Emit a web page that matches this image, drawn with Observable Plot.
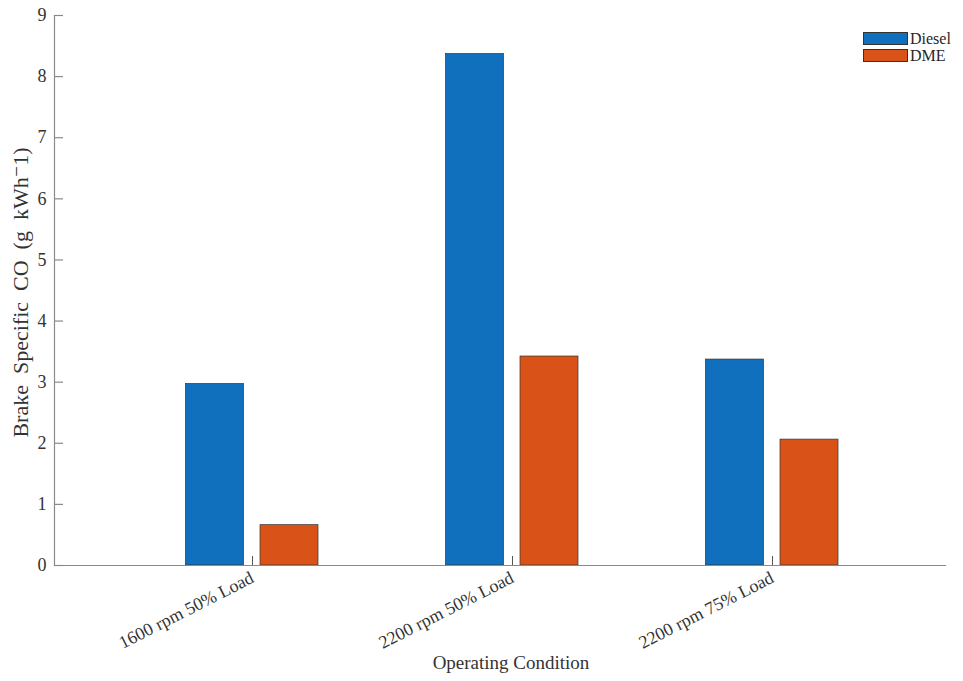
<!DOCTYPE html>
<html>
<head>
<meta charset="utf-8">
<script src="https://cdn.jsdelivr.net/npm/d3@7"></script>
<script src="https://cdn.jsdelivr.net/npm/@observablehq/plot@0.6"></script>
<style>
  body { margin: 0; background: #fff; }
  #wrap { position: relative; width: 963px; height: 681px; font-family: "Liberation Serif", "DejaVu Serif", serif; }
  .legend { position: absolute; left: 863px; top: 30px; font-size: 16px; color: #262626; }
  .legend .row { display: flex; align-items: center; height: 17px; }
  .legend .sw { width: 45px; height: 13px; border: 0.8px solid #333; margin-right: 2px; box-sizing: border-box; }
</style>
</head>
<body>
<div id="wrap"></div>
<script>
const categories = ["1600 rpm 50% Load", "2200 rpm 50% Load", "2200 rpm 75% Load"];
const series = ["Diesel", "DME"];
const dieselValues = [2.97, 8.37, 3.37];
const dmeValues = [0.66, 3.42, 2.06];
const yTicks = [0, 1, 2, 3, 4, 5, 6, 7, 8, 9];
const colors = ["#1170BE", "#D95319"];
const gap = " \u00A0";
const yLabel = ["Brake", "Specific", "CO", "(g", "kWh\u207B1)"].join(gap);
const xLabel = "Operating Condition";

const W = 963, H = 681;
const mL = 54, mR = 18, mT = 15, mB = 116;
const frameW = W - mL - mR, frameH = H - mT - mB;

const dieselData = categories.map((c, i) => ({category: c, series: "Diesel", value: dieselValues[i]}));
const dmeData = categories.map((c, i) => ({category: c, series: "DME", value: dmeValues[i]}));

const font = "'Liberation Serif', 'DejaVu Serif', serif";
const axisColor = "#8a8a8a";
const barInset = 101;

const chart = Plot.plot({
  width: W,
  height: H,
  marginLeft: mL,
  marginRight: mR,
  marginTop: mT,
  marginBottom: mB,
  style: {fontFamily: font, fontSize: "18px", color: "#333", background: "#fff"},
  x: {domain: categories, range: [120.75, 902.25], padding: 0},
  y: {domain: [0, 9]},
  color: {domain: series, range: colors},
  marks: [
    Plot.barY(dieselData, {x: "category", y: "value", fill: "series", stroke: "#333", strokeWidth: 0.7,
      insetLeft: barInset, insetRight: barInset, dx: -37.5}),
    Plot.barY(dmeData, {x: "category", y: "value", fill: "series", stroke: "#333", strokeWidth: 0.7,
      insetLeft: barInset, insetRight: barInset, dx: 37}),
    Plot.frame({anchor: "left", stroke: axisColor, strokeWidth: 1.2}),
    Plot.frame({anchor: "bottom", stroke: axisColor, strokeWidth: 1.2}),
    Plot.tickY(yTicks, {y: d => d, stroke: axisColor, strokeWidth: 1.2, insetRight: frameW - 9}),
    Plot.tickX(categories, {x: d => d, stroke: "#555", strokeWidth: 1, insetTop: frameH - 9}),
    Plot.axisY({ticks: yTicks, tickSize: 0, tickPadding: 8, fontSize: 18, fill: "#333", fontFamily: font, label: null}),
    Plot.axisX({tickSize: 0, tickPadding: 11, tickRotate: -27, fontSize: 18, fill: "#333", fontFamily: font, label: null}),
    Plot.text([yLabel], {text: d => d, frameAnchor: "left", textAnchor: "middle", dx: -34, dy: 2, rotate: -90, fontSize: 22, fill: "#333", fontFamily: font}),
    Plot.text([xLabel], {text: d => d, frameAnchor: "bottom", textAnchor: "middle", dy: 103, dx: 11, fontSize: 19, fill: "#333", fontFamily: font})
  ]
});

const wrap = document.getElementById("wrap");
wrap.appendChild(chart);

const legend = document.createElement("div");
legend.className = "legend";
series.forEach((s, i) => {
  const row = document.createElement("div");
  row.className = "row";
  const sw = document.createElement("div");
  sw.className = "sw";
  sw.style.background = colors[i];
  const t = document.createElement("span");
  t.textContent = s;
  row.appendChild(sw);
  row.appendChild(t);
  legend.appendChild(row);
});
wrap.appendChild(legend);
</script>
</body>
</html>
